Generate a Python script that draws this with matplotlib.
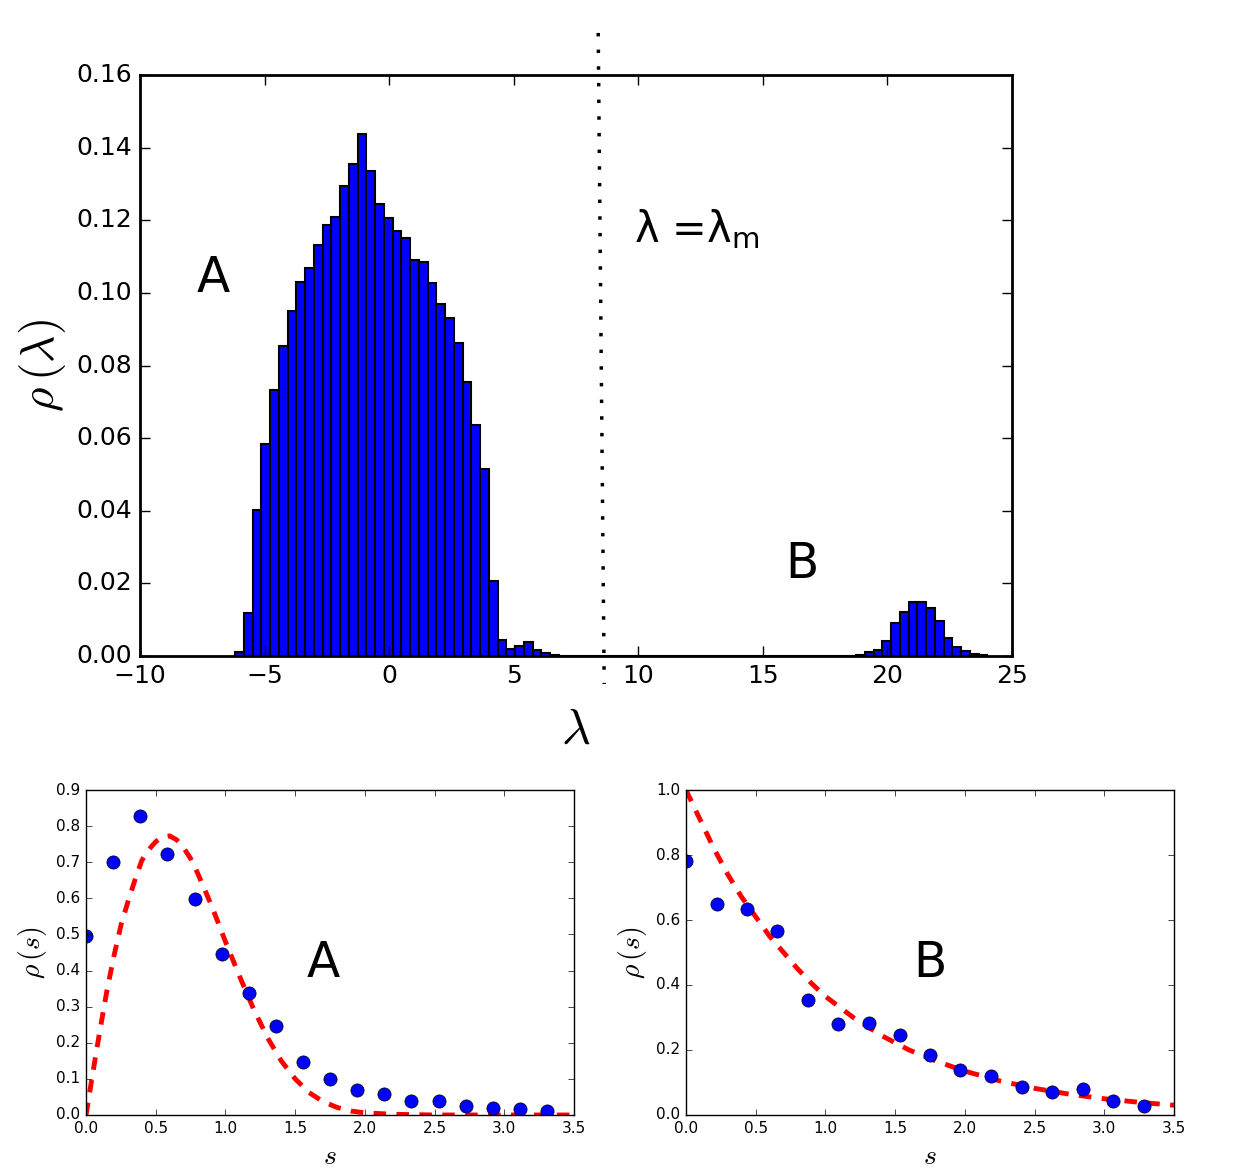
import numpy as np
import matplotlib
matplotlib.use("Agg")
import matplotlib.pyplot as plt

plt.style.use("classic")
plt.rcParams["lines.scale_dashes"] = False
plt.rcParams["mathtext.fontset"] = "cm"

# eigenvalue histogram (bin left edge, bin width, heights)
lam_start = -6.18
bin_width = 0.351
hist_heights = [
    0.0012, 0.0118, 0.0402, 0.0583, 0.0733, 0.0853, 0.0950, 0.1030, 0.1070, 0.1131,
    0.1187, 0.1208, 0.1294, 0.1355, 0.1437, 0.1336, 0.1245, 0.1205, 0.1170, 0.1150,
    0.1090, 0.1084, 0.1026, 0.0969, 0.0930, 0.0861, 0.0755, 0.0637, 0.0514, 0.0206,
    0.0045, 0.0019, 0.0028, 0.0038, 0.0017, 0.0009, 0.0004, 0.0, 0.0, 0.0,
    0.0, 0.0, 0.0, 0.0, 0.0, 0.0, 0.0, 0.0, 0.0, 0.0,
    0.0, 0.0, 0.0, 0.0, 0.0, 0.0, 0.0, 0.0, 0.0, 0.0,
    0.0, 0.0, 0.0, 0.0, 0.0, 0.0, 0.0, 0.0, 0.0, 0.0,
    0.0, 0.0004, 0.0010, 0.0017, 0.0042, 0.0090, 0.0122, 0.0148, 0.0150, 0.0131,
    0.0096, 0.0051, 0.0026, 0.0015, 0.0006, 0.0003,
]
lam_m_line_x = [8.39, 8.63]
lam_m_line_y = [0.1716, -0.0077]

# level spacing, region A
sA = [0.0, 0.194, 0.389, 0.583, 0.778, 0.972, 1.167, 1.361, 1.556, 1.75,
      1.944, 2.139, 2.333, 2.528, 2.722, 2.917, 3.111, 3.306]
pA = [0.496, 0.701, 0.828, 0.723, 0.599, 0.446, 0.337, 0.247, 0.148, 0.100,
      0.069, 0.058, 0.039, 0.039, 0.026, 0.020, 0.016, 0.012]
sA_fit = [0.0, 0.05, 0.1, 0.15, 0.2, 0.25, 0.3, 0.35, 0.4, 0.45, 0.5, 0.55, 0.6,
          0.65, 0.7, 0.75, 0.8, 0.85, 0.9, 0.95, 1.0, 1.1, 1.2, 1.3, 1.4, 1.5,
          1.6, 1.7, 1.8, 1.9, 2.0, 2.2, 2.5, 3.0, 3.5]
pA_fit = [0.0, 0.12, 0.235, 0.345, 0.44, 0.525, 0.59, 0.65, 0.705, 0.735, 0.757,
          0.77, 0.773, 0.762, 0.74, 0.71, 0.67, 0.625, 0.58, 0.53, 0.48, 0.385,
          0.295, 0.215, 0.15, 0.10, 0.062, 0.037, 0.021, 0.011, 0.006, 0.002,
          0.0, 0.0, 0.0]

# level spacing, region B
sB = [0.0, 0.22, 0.436, 0.656, 0.873, 1.093, 1.312, 1.532, 1.751, 1.968,
      2.188, 2.407, 2.627, 2.846, 3.066, 3.283]
pB = [0.783, 0.650, 0.634, 0.565, 0.353, 0.281, 0.283, 0.247, 0.184, 0.138,
      0.121, 0.086, 0.070, 0.081, 0.043, 0.029]
sB_fit = [0.0, 0.1, 0.2, 0.3, 0.4, 0.5, 0.6, 0.7, 0.8, 0.9, 1.0, 1.2, 1.4, 1.6,
          1.8, 2.0, 2.25, 2.5, 2.75, 3.0, 3.25, 3.5]
pB_fit = [1.0, 0.91, 0.82, 0.74, 0.67, 0.61, 0.55, 0.50, 0.45, 0.405, 0.365,
          0.30, 0.245, 0.20, 0.165, 0.135, 0.105, 0.082, 0.064, 0.05, 0.039, 0.03]

fig = plt.figure(figsize=(12.38, 11.69), dpi=100, facecolor="white")

# top: density of eigenvalues
ax = fig.add_axes([0.1131, 0.4388, 0.7044, 0.497])
edges = lam_start + bin_width * np.arange(len(hist_heights))
ax.bar(edges, hist_heights, width=bin_width, align="edge", color="b",
       edgecolor="k", linewidth=1.5)
ax.plot(lam_m_line_x, lam_m_line_y, color="k", lw=2.5,
        linestyle=(0, (2.5, 9.5)), clip_on=False)
ax.set_xlim(-10, 25)
ax.set_ylim(0, 0.16)
ax.set_xticks([-10, -5, 0, 5, 10, 15, 20, 25])
ax.set_yticks(np.arange(0, 0.161, 0.02))
ax.yaxis.set_major_formatter(matplotlib.ticker.FormatStrFormatter("%.2f"))
ax.tick_params(labelsize=18, width=1, length=7, pad=6)
for sp in ax.spines.values():
    sp.set_linewidth(2)
ax.set_xlabel(r"$\lambda$", fontsize=36, labelpad=12)
ax.set_ylabel(r"$\rho\,(\lambda)$", fontsize=34, labelpad=6)
ax.text(-7.71, 0.1002, "A", fontsize=35)
ax.text(15.89, 0.0215, "B", fontsize=35)
ax.text(9.83, 0.114, r"λ =$\mathregular{\lambda_m}$", fontsize=30)

# bottom left: spacing distribution A
axA = fig.add_axes([0.0695, 0.0462, 0.3942, 0.278])
axA.plot(sA_fit, pA_fit, color="r", lw=3.5, linestyle=(0, (9, 7.5)))
axA.plot(sA, pA, "o", color="b", ms=9.5, mec="k", mew=0.5)
axA.set_xlim(0, 3.5)
axA.set_ylim(0, 0.9)
axA.set_xticks(np.arange(0, 3.51, 0.5))
axA.set_yticks(np.arange(0, 0.91, 0.1))
axA.tick_params(labelsize=11)
axA.set_xlabel(r"$s$", fontsize=20)
axA.set_ylabel(r"$\rho\,(s)$", fontsize=20)
axA.text(1.585, 0.382, "A", fontsize=35)

# bottom right: spacing distribution B
axB = fig.add_axes([0.5541, 0.0462, 0.3942, 0.278])
axB.plot(sB_fit, pB_fit, color="r", lw=3.5, linestyle=(0, (9, 7.5)))
axB.plot(sB, pB, "o", color="b", ms=9.5, mec="k", mew=0.5)
axB.set_xlim(0, 3.5)
axB.set_ylim(0, 1.0)
axB.set_xticks(np.arange(0, 3.51, 0.5))
axB.set_yticks(np.arange(0, 1.01, 0.2))
axB.tick_params(labelsize=11)
axB.set_xlabel(r"$s$", fontsize=20)
axB.set_ylabel(r"$\rho\,(s)$", fontsize=20)
axB.text(1.628, 0.425, "B", fontsize=35)

fig.savefig("out.png", dpi=100, facecolor="white")
